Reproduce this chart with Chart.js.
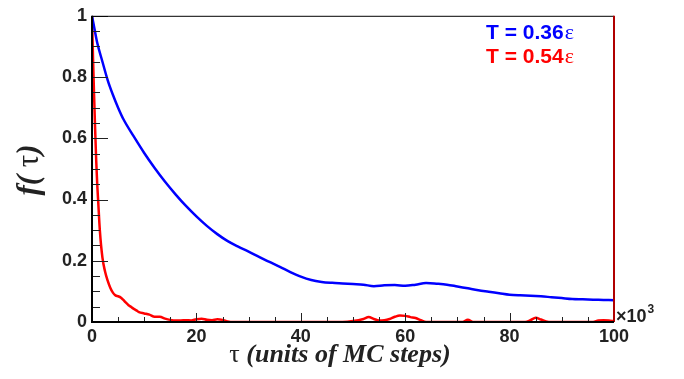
<!DOCTYPE html>
<html>
<head>
<meta charset="utf-8">
<script src="https://cdn.jsdelivr.net/npm/chart.js@4"></script>
<style>
  html, body { margin: 0; padding: 0; background: #fff; }
  canvas { display: block; }
</style>
</head>
<body>
<canvas id="corrChart" width="684" height="379"></canvas>
<script>
// f(tau) for T = 0.36 eps (blue)
const tauBlue = [0, 0.5, 1, 2, 3, 4, 5, 6, 8, 10, 12, 14, 16, 18, 20, 22, 24, 26, 28, 30, 32, 34, 36, 38, 40,
  42, 44, 46, 48, 50, 52, 54, 56, 58, 60, 62, 64, 66, 68, 70, 72, 74, 76, 78, 80, 82, 84, 86, 88, 90, 92, 94, 96, 98, 100];
const fBlue = [1.0, 0.955, 0.912, 0.85, 0.79, 0.742, 0.70, 0.663, 0.606, 0.552, 0.503, 0.458, 0.417, 0.379, 0.345,
  0.314, 0.287, 0.264, 0.246, 0.23, 0.213, 0.196, 0.18, 0.163, 0.148,
  0.137, 0.131, 0.128, 0.126, 0.124, 0.122, 0.117, 0.12, 0.121, 0.118, 0.122, 0.127, 0.125, 0.122, 0.116,
  0.110, 0.104, 0.099, 0.094, 0.089, 0.087, 0.086, 0.084, 0.081, 0.078, 0.075, 0.074, 0.073, 0.072, 0.071];

// f(tau) for T = 0.54 eps (red)
const tauRed = [0, 0.2, 0.4, 0.6, 0.8, 1.0, 1.2, 1.5, 2, 2.5, 3, 3.5, 4, 4.5, 5, 5.5, 6, 6.5, 7, 7.5, 8, 8.5, 9, 10, 11, 12, 13,
  14, 15, 16, 17, 18, 19, 20, 21, 22, 23, 24, 25, 26, 27, 48, 50, 52, 53, 54, 55, 56, 57, 58, 59, 60, 61, 62, 63, 64,
  71, 72, 73, 83, 84, 85, 86, 87, 88, 96, 97, 98, 99, 100];
const fRed = [1.0, 0.86, 0.74, 0.63, 0.53, 0.45, 0.39, 0.30, 0.21, 0.165, 0.135, 0.112, 0.096, 0.087, 0.084, 0.08, 0.072,
  0.063, 0.055, 0.049, 0.043, 0.038, 0.032, 0.028, 0.024, 0.017, 0.017,
  0.011, 0.007, 0.005, 0.005, 0.006, 0.005, 0.009, 0.011, 0.007, 0.006, 0.009, 0.007, 0.002, 0, 0, 0.003,
  0.01, 0.016, 0.01, 0.005, 0.006, 0.01, 0.017, 0.021, 0.02, 0.016, 0.013, 0.006, 0,
  0, 0.007, 0, 0, 0.006, 0.014, 0.008, 0.002, 0, 0, 0.005, 0.006, 0.005, 0.003];

const xTicks = [0, 20, 40, 60, 80, 100];
const yTicks = [0, 0.2, 0.4, 0.6, 0.8, 1];

function pairs(xs, ys) {
  return xs.map((x, i) => ({ x: x, y: ys[i] }));
}

// ROOT style frame, inner ticks and texts
const rootFrame = {
  id: 'rootFrame',
  beforeDraw(chart) {
    const ctx = chart.ctx;
    ctx.save();
    ctx.fillStyle = '#fff';
    ctx.fillRect(0, 0, chart.width, chart.height);
    ctx.restore();
  },
  afterDatasetsDraw(chart) {
    const ctx = chart.ctx;
    const a = chart.chartArea;
    const xs = chart.scales.x, ys = chart.scales.y;
    ctx.save();

    // tick marks, pointing inward
    ctx.strokeStyle = '#222';
    ctx.lineWidth = 1;
    for (let v = 0; v <= 100; v += 5) {
      const px = Math.round(xs.getPixelForValue(v)) + 0.5;
      const len = v % 20 === 0 ? 9 : 5;
      ctx.beginPath();
      ctx.moveTo(px, a.bottom);
      ctx.lineTo(px, a.bottom - len);
      ctx.stroke();
    }
    for (let i = 0; i <= 20; i++) {
      const v = i * 0.05;
      const py = Math.round(ys.getPixelForValue(v)) + 0.5;
      const len = i % 4 === 0 ? 16 : 8;
      ctx.beginPath();
      ctx.moveTo(a.left, py);
      ctx.lineTo(a.left + len, py);
      ctx.stroke();
    }

    // frame
    ctx.strokeStyle = '#000';
    ctx.lineWidth = 1;
    ctx.beginPath();
    ctx.moveTo(a.left, a.top + 0.5);
    ctx.lineTo(a.right, a.top + 0.5);
    ctx.stroke();
    ctx.strokeStyle = '#b00000';
    ctx.lineWidth = 2;
    ctx.beginPath();
    ctx.moveTo(a.right, a.top);
    ctx.lineTo(a.right, a.bottom);
    ctx.stroke();
    ctx.strokeStyle = '#000';
    ctx.lineWidth = 2;
    ctx.beginPath();
    ctx.moveTo(a.left, a.top);
    ctx.lineTo(a.left, a.bottom);
    ctx.lineTo(a.right, a.bottom);
    ctx.stroke();

    // x10^3
    ctx.fillStyle = '#222';
    ctx.textBaseline = 'alphabetic';
    ctx.textAlign = 'left';
    ctx.font = 'bold 18px "Liberation Sans", Arial, sans-serif';
    ctx.fillText('\u00d710', a.right + 2, a.bottom);
    const w10 = ctx.measureText('\u00d710').width;
    ctx.font = 'bold 12px "Liberation Sans", Arial, sans-serif';
    ctx.fillText('3', a.right + 3 + w10, a.bottom - 9);

    // legend texts
    const legend = [['T = 0.36', '#0000ff', 39], ['T = 0.54', '#ff0000', 63]];
    legend.forEach(([txt, col, y]) => {
      ctx.fillStyle = col;
      ctx.font = 'bold 21px "Liberation Sans", Arial, sans-serif';
      ctx.fillText(txt, 486, y);
      const w = ctx.measureText(txt).width;
      ctx.font = '22px "Liberation Serif", "Times New Roman", serif';
      ctx.fillText('\u03b5', 486 + w + 1, y);
    });

    // x title
    ctx.fillStyle = '#222';
    const tauFont = '26px "Liberation Serif", "Times New Roman", serif';
    const biFont = 'italic bold 26px "Liberation Serif", "Times New Roman", serif';
    ctx.font = tauFont;
    const wt = ctx.measureText('\u03c4 ').width;
    ctx.font = biFont;
    const wr = ctx.measureText('(units of MC steps)').width;
    const x0 = 340 - (wt + wr) / 2;
    ctx.font = tauFont;
    ctx.fillText('\u03c4 ', x0, 362);
    ctx.font = biFont;
    ctx.fillText('(units of MC steps)', x0 + wt, 362);

    // y title
    const tauFontY = '31px "Liberation Serif", "Times New Roman", serif';
    const biFontY = 'italic bold 31px "Liberation Serif", "Times New Roman", serif';
    ctx.translate(38, 170);
    ctx.rotate(-Math.PI / 2);
    ctx.font = biFontY;
    const p1 = ctx.measureText('f(').width;
    ctx.font = tauFontY;
    const p2 = ctx.measureText(' \u03c4').width;
    ctx.font = biFontY;
    const p3 = ctx.measureText(')').width;
    let sx = -(p1 + p2 + p3) / 2;
    ctx.fillText('f(', sx, 0);
    ctx.font = tauFontY;
    ctx.fillText(' \u03c4', sx + p1, 0);
    ctx.font = biFontY;
    ctx.fillText(')', sx + p1 + p2, 0);

    ctx.restore();
  }
};

new Chart(document.getElementById('corrChart').getContext('2d'), {
  type: 'line',
  data: {
    datasets: [{
      label: 'T = 0.36ε',
      data: pairs(tauBlue, fBlue),
      borderColor: '#0000ff',
      borderWidth: 2.5,
      pointRadius: 0,
      cubicInterpolationMode: 'monotone'
    }, {
      label: 'T = 0.54ε',
      data: pairs(tauRed, fRed),
      borderColor: '#ff0000',
      borderWidth: 2.5,
      pointRadius: 0,
      cubicInterpolationMode: 'monotone'
    }]
  },
  options: {
    responsive: false,
    animation: false,
    devicePixelRatio: 1,
    layout: { padding: { top: 5, right: 70, left: 0, bottom: 0 } },
    plugins: {
      legend: { display: false },
      tooltip: { enabled: false }
    },
    scales: {
      x: {
        type: 'linear',
        min: 0,
        max: 100,
        afterFit: s => { s.height = 57; },
        afterBuildTicks: s => { s.ticks = xTicks.map(v => ({ value: v })); },
        grid: { display: false, drawTicks: false },
        border: { display: false },
        ticks: {
          padding: 4,
          maxRotation: 0,
          color: '#222',
          callback: v => String(v),
          font: { family: '"Liberation Sans", Arial, sans-serif', size: 18, weight: 'bold' }
        }
      },
      y: {
        type: 'linear',
        min: 0,
        max: 1,
        afterFit: s => { s.width = 92; },
        afterBuildTicks: s => { s.ticks = yTicks.map(v => ({ value: v })); },
        grid: { display: false, drawTicks: false },
        border: { display: false },
        ticks: {
          padding: 5,
          color: '#222',
          callback: v => String(Math.round(v * 10) / 10),
          font: { family: '"Liberation Sans", Arial, sans-serif', size: 18, weight: 'bold' }
        }
      }
    }
  },
  plugins: [rootFrame]
});
</script>
</body>
</html>
